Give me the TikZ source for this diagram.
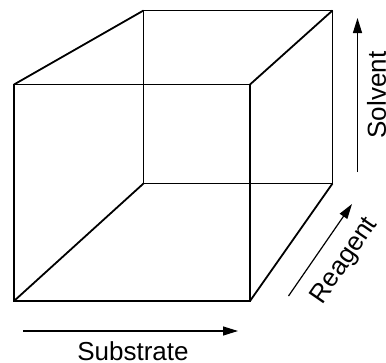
\documentclass[tikz,border=0pt]{standalone}
\usepackage{fontspec}
\setmainfont{Liberation Sans}
\usetikzlibrary{arrows.meta}
\begin{document}
\begin{tikzpicture}[x=1pt,y=-1pt,
  edge/.style={line width=1.8pt,line join=miter},
  axis/.style={line width=1.2pt,-{Triangle[length=15pt,width=9pt]}},
  lbl/.style={font=\fontsize{26}{30}\selectfont,inner sep=0pt}]
\useasboundingbox (0,0) rectangle (386,362);
% front face
\coordinate (fa) at (14,84.5);
\coordinate (fb) at (250,84.5);
\coordinate (fc) at (250,301);
\coordinate (fd) at (14,301);
% back face
\coordinate (ba) at (143.5,10.5);
\coordinate (bb) at (332.5,10.5);
\coordinate (bc) at (332.5,183.5);
\coordinate (bd) at (143.5,183.5);
\draw[edge] (fa) -- (fb) -- (fc) -- (fd) -- cycle;
\draw[edge] (ba) -- (bb) -- (bc) -- (bd) -- cycle;
\draw[edge] (fa) -- (ba);
\draw[edge] (fb) -- (bb);
\draw[edge] (fc) -- (bc);
\draw[edge] (fd) -- (bd);
% axes
\coordinate (s0) at (23,331);
\coordinate (s1) at (238,331);
\draw[axis] (s0) -- (s1);
\node[lbl] (sub) at (133,351) {Substrate};
\coordinate (r0) at (288.5,296);
\coordinate (r1) at (352,204);
\draw[axis] (r0) -- (r1);
\node[lbl,rotate=55.4] (rea) at (345,261) {Reagent};
\coordinate (v0) at (357.5,172);
\coordinate (v1) at (357.5,18);
\draw[axis] (v0) -- (v1);
\node[lbl,rotate=90] (sol) at (376.5,95) {Solvent};
\end{tikzpicture}
\end{document}
